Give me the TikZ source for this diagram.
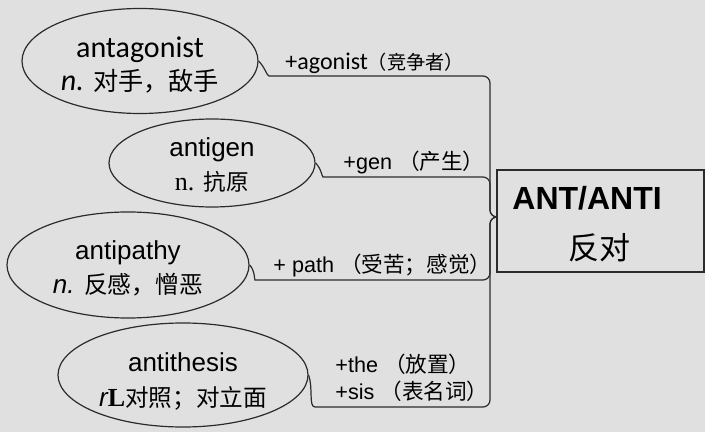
\documentclass[tikz,border=0pt]{standalone}
\usepackage{fontspec}
\setmainfont{Liberation Sans}
\newfontfamily\cjk{Noto Sans CJK SC}
\newfontfamily\calibrifont{Carlito}
\newfontfamily\seriffont{Liberation Serif}
\usetikzlibrary{shapes.geometric}

\definecolor{paper}{HTML}{E0E0E0}
\definecolor{ink}{HTML}{2B2B2B}
\tikzset{
  word/.style={ellipse,draw=ink,line width=0.6pt,inner sep=0pt,align=center},
  branch/.style={draw=ink,line width=0.6pt,rounded corners=3.5pt},
  lbl/.style={anchor=base west,inner sep=0pt,font=\fontsize{10.8}{12}\selectfont}
}

\begin{document}
\begin{tikzpicture}[x=0.5pt,y=-0.5pt]
  \fill[paper] (0,0) rectangle (705,432);
  % words
  \node[word,minimum width=118pt,minimum height=52.5pt,font=\fontsize{15}{16.5}\selectfont\calibrifont]
    (antagonist) at (140,61) {\rule{0pt}{14pt}antagonist\\{\itshape n.} {\cjk\fontsize{12.6}{16.5}\selectfont 对手，敌手}};
  \node[word,minimum width=103pt,minimum height=44pt,font=\fontsize{13}{17}\selectfont]
    (antigen) at (212,163) {\rule{0pt}{11.3pt}antigen\\{\seriffont n.} {\cjk\fontsize{11.3}{17}\selectfont 抗原}};
  \node[word,minimum width=121pt,minimum height=53pt,font=\fontsize{13}{17}\selectfont]
    (antipathy) at (128,265) {\rule{0pt}{12.8pt}antipathy\\{\itshape n.} {\cjk\fontsize{11.9}{17}\selectfont 反感，憎恶}};
  \node[word,minimum width=125pt,minimum height=52pt,font=\fontsize{13}{17.5}\selectfont]
    (antithesis) at (183,375) {\rule{0pt}{16.3pt}antithesis\\{\itshape r}{\seriffont\bfseries L}{\cjk\fontsize{11.8}{17.5}\selectfont 对照；对立面}};
  % root
  \node[draw=ink,line width=0.7pt,minimum width=103.5pt,minimum height=51pt,inner sep=0pt] (root) at (600.5,221) {};
  \node[lbl,font=\fontsize{16}{18}\selectfont\bfseries] (title) at (512,210) {ANT/ANTI};
  \node[font=\cjk\fontsize{15.5}{18}\selectfont,inner sep=0pt] (meaning) at (599,248) {反对};
  \coordinate (hub) at (497,217);
  % branches
  \foreach \w/\a/\x/\y in {antagonist/-45/276/76,antigen/-45/330/177,antipathy/-45/262/280,antithesis/-70/322/407}
    \draw[branch] (\w.east) to[out=\a,in=180] (\x,\y) -- (490,\y) -- (490,217) -- (hub);
  % labels
  \node[lbl,font=\fontsize{12}{13}\selectfont\calibrifont] (agonist) at (285,70) {+agonist{\cjk\fontsize{9.6}{13}\selectfont （竞争者）}};
  \node[lbl] (gen) at (343,170) {+gen {\cjk （产生）}};
  \node[lbl] (path) at (273,272) {+ path {\cjk （受苦；感觉）}};
  \node[lbl] (the) at (335,372) {+the {\cjk （放置）}};
  \node[lbl] (sis) at (335,399) {+sis {\cjk （表名词）}};
\end{tikzpicture}
\end{document}
